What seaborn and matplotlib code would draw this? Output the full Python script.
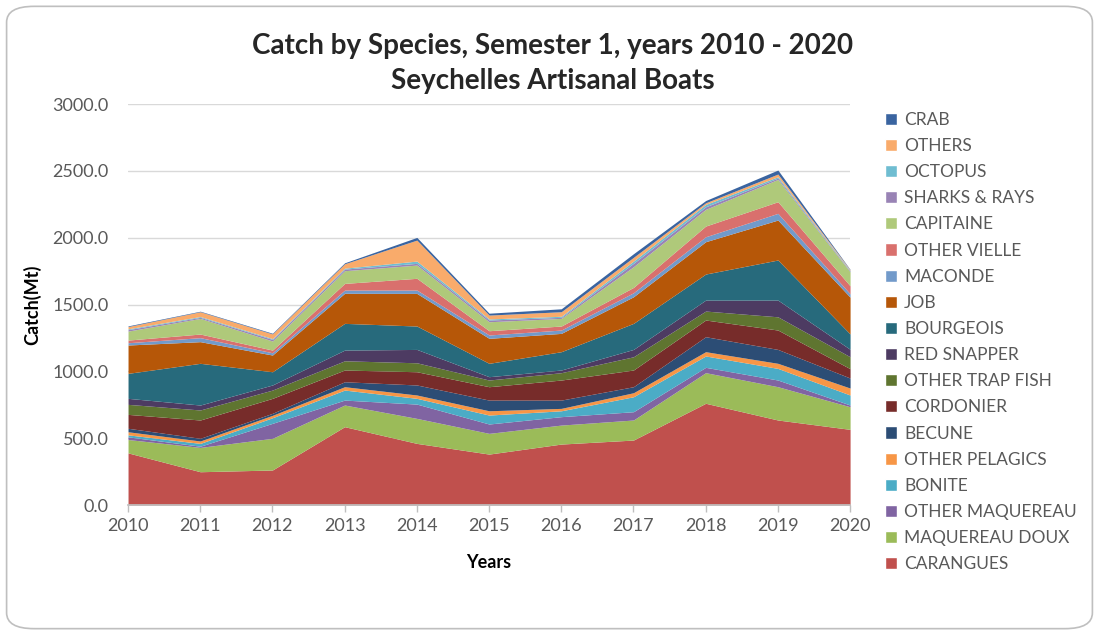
import matplotlib.pyplot as plt
import seaborn as sns
import pandas as pd
import numpy as np
from matplotlib.patches import FancyBboxPatch, Patch

#%% data (Mt, semester 1)
years = [2010, 2011, 2012, 2013, 2014, 2015, 2016, 2017, 2018, 2019, 2020]

carangues       = [390, 249, 262, 586, 461, 381, 456, 486, 761, 636, 566]
maquereau_doux  = [100, 182, 237, 162, 187, 155, 142, 150, 229, 249, 169]
other_maquereau = [20, 9, 112, 37, 107, 70, 63, 62, 40, 50, 13]
bonite          = [15, 21, 42, 75, 43, 67, 44, 112, 85, 87, 75]
other_pelagics  = [23, 18, 18, 25, 25, 32, 18, 30, 32, 38, 52]
becune          = [26, 20, 15, 37, 75, 80, 62, 45, 112, 104, 75]
cordonier       = [104, 137, 112, 88, 99, 100, 150, 125, 125, 145, 70]
other_trap_fish = [75, 75, 62, 69, 67, 50, 55, 99, 67, 99, 89]
red_snapper     = [45, 37, 38, 80, 100, 25, 20, 55, 82, 125, 56]
bourgeois       = [187, 312, 99, 200, 175, 100, 137, 195, 195, 300, 115]
job             = [212, 162, 125, 225, 244, 187, 137, 199, 242, 299, 275]
maconde         = [17, 30, 17, 24, 25, 25, 25, 30, 37, 50, 25]
other_vielle    = [20, 27, 20, 50, 88, 32, 30, 40, 80, 87, 60]
capitaine       = [67, 117, 68, 95, 99, 67, 57, 155, 125, 167, 105]
sharks_rays     = [11, 8, 12, 12, 13, 13, 8, 25, 19, 10, 5]
octopus         = [6, 6, 6, 7, 17, 8, 8, 17, 18, 10, 5]
others          = [17, 36, 35, 33, 157, 29, 34, 28, 12, 20, 5]
crab            = [5, 4, 5, 7, 20, 14, 22, 27, 17, 30, 3]

species = ["CARANGUES", "MAQUEREAU DOUX", "OTHER MAQUEREAU", "BONITE", "OTHER PELAGICS",
           "BECUNE", "CORDONIER", "OTHER TRAP FISH", "RED SNAPPER", "BOURGEOIS", "JOB",
           "MACONDE", "OTHER VIELLE", "CAPITAINE", "SHARKS & RAYS", "OCTOPUS", "OTHERS", "CRAB"]

df = pd.DataFrame({
    "CARANGUES": carangues, "MAQUEREAU DOUX": maquereau_doux,
    "OTHER MAQUEREAU": other_maquereau, "BONITE": bonite,
    "OTHER PELAGICS": other_pelagics, "BECUNE": becune, "CORDONIER": cordonier,
    "OTHER TRAP FISH": other_trap_fish, "RED SNAPPER": red_snapper,
    "BOURGEOIS": bourgeois, "JOB": job, "MACONDE": maconde,
    "OTHER VIELLE": other_vielle, "CAPITAINE": capitaine,
    "SHARKS & RAYS": sharks_rays, "OCTOPUS": octopus, "OTHERS": others, "CRAB": crab,
}, index=years)

colors = ["#C0504D", "#9BBB59", "#8064A2", "#4BACC6", "#F79646", "#2C4D75",
          "#772C2A", "#5F7530", "#4D3B62", "#276A7C", "#B65708", "#729ACA",
          "#D9706D", "#AFC97A", "#9983B5", "#6FBDD1", "#F9AB6B", "#3A64A0"]

#%% plot
sns.set_theme(style="white")
plt.rcParams['font.family'] = ['Lato', 'DejaVu Sans']

fig = plt.figure(figsize=(10.99, 6.35), dpi=100)
fig.patches.append(FancyBboxPatch((0.006, 0.01), 0.988, 0.98,
                                  boxstyle="round,pad=0,rounding_size=0.025",
                                  transform=fig.transFigure, facecolor="white",
                                  edgecolor="#BFBFBF", linewidth=1.2, zorder=-10))
ax = fig.add_axes([0.1165, 0.2047, 0.657, 0.6315])
ax.set_facecolor("none")

ax.stackplot(df.index, [df[s].values for s in species], colors=colors,
             labels=species, linewidth=0)

ax.set_xlim(2010, 2020)
ax.set_ylim(0, 3000)
ax.set_xticks(years)
ax.set_yticks(np.arange(0, 3001, 500))
ax.set_yticklabels([f"{v:.1f}" for v in np.arange(0, 3001, 500)])
ax.yaxis.grid(True, color="#D9D9D9", linewidth=1)
ax.set_axisbelow(True)
sns.despine(ax=ax, left=True)
ax.spines["bottom"].set_color("#BFBFBF")
ax.tick_params(axis="x", colors="#595959", labelsize=13, length=5, width=1,
               color="#BFBFBF", direction="out", bottom=True, pad=4)
ax.tick_params(axis="y", colors="#595959", labelsize=13, length=0, pad=14)

ax.set_xlabel("Years", fontsize=13, fontweight="bold", color="black", labelpad=15)
ax.set_ylabel("Catch(Mt)", fontsize=13, fontweight="bold", color="black", labelpad=8)

fig.text(0.503, 0.928, "Catch by Species, Semester 1, years 2010 - 2020",
         ha="center", va="center", fontsize=20, fontweight="bold")
fig.text(0.503, 0.873, "Seychelles Artisanal Boats",
         ha="center", va="center", fontsize=20, fontweight="bold")

handles = [Patch(facecolor=c, label=s) for s, c in zip(species, colors)][::-1]
leg = fig.legend(handles=handles, loc="upper left", bbox_to_anchor=(0.799, 0.835),
                 frameon=False, fontsize=12.5, handlelength=0.7, handleheight=0.7,
                 handletextpad=0.4, labelspacing=0.585, borderaxespad=0)
for t in leg.get_texts():
    t.set_color("#595959")

fig.savefig("out.png", dpi=100)
